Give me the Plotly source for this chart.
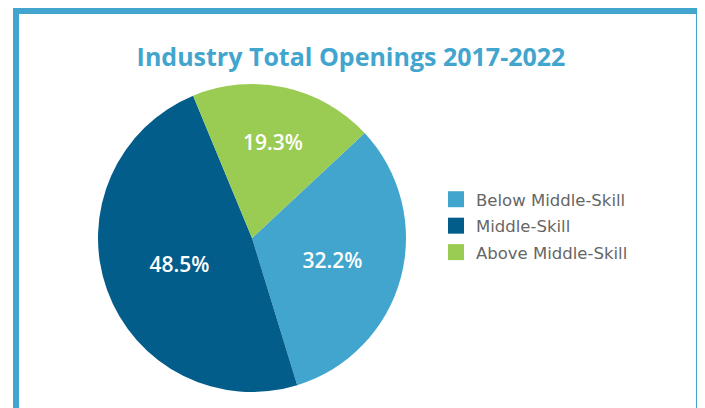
import plotly.graph_objects as go

categories = ["Below Middle-Skill", "Middle-Skill", "Above Middle-Skill"]
shares = [32.2, 48.5, 19.3]
colors = ["#41A5CE", "#035D8A", "#9ACB52"]

OFF = 8  # page body margin shifts the figure by this much
W, H = 705 - OFF, 408 - OFF

cx, cy, r = 252 - OFF, H - (238 - OFF), 154

fig = go.Figure()

fig.add_trace(go.Pie(
    labels=categories,
    values=shares,
    sort=False,
    direction="clockwise",
    rotation=47,
    marker=dict(colors=colors, line=dict(width=0)),
    texttemplate="%{value:.1f}%",
    textposition="inside",
    insidetextorientation="horizontal",
    textfont=dict(family="Open Sans", size=21, color="white", weight=600),
    hoverinfo="label+percent",
    showlegend=False,
    domain=dict(x=[(cx - r) / W, (cx + r) / W], y=[(cy - r) / H, (cy + r) / H]),
))

# legend entries with bigger square swatches
for name, col in zip(categories, colors):
    fig.add_trace(go.Scatter(
        x=[None], y=[None], mode="markers", name=name, legendgroup=name,
        marker=dict(symbol="square", size=16, color=col),
        hoverinfo="skip",
    ))

# frame around the chart (bottom edge is cut off in the original)
fig.add_shape(type="rect", xref="paper", yref="paper",
              x0=(16 - OFF) / W, x1=(699 - OFF) / W, y0=-0.1, y1=1 - (11 - OFF) / H,
              line=dict(color="#41A5CE", width=6), fillcolor="rgba(0,0,0,0)")

fig.update_layout(
    width=W, height=H,
    margin=dict(l=0, r=0, t=0, b=0),
    paper_bgcolor="white",
    plot_bgcolor="white",
    xaxis=dict(visible=False),
    yaxis=dict(visible=False),
    title=dict(text="<b>Industry Total Openings 2017-2022</b>",
               x=(351 - OFF) / W, xanchor="center", y=1 - (57 - OFF) / H, yanchor="middle",
               font=dict(family="Open Sans", size=25, color="#41A5CE")),
    legend=dict(x=(436 - OFF) / W, y=1 - (182 - OFF) / H, xanchor="left", yanchor="top",
                font=dict(family="DejaVu Sans", size=16.5, color="#666666"),
                tracegroupgap=2, itemwidth=30, bgcolor="rgba(0,0,0,0)"),
    showlegend=True,
)

fig.write_html("out.html")
